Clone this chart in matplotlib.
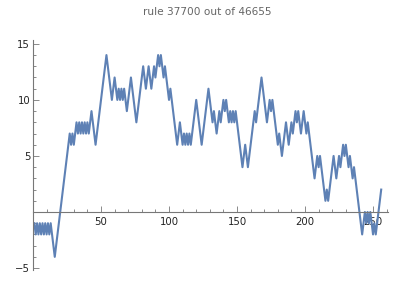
import matplotlib
matplotlib.use('Agg')
import matplotlib.pyplot as plt
from matplotlib.ticker import MultipleLocator, FixedLocator
import numpy as np

title = 'rule 37700 out of 46655'

# walk value at each step 1..256
steps = list(range(1, 257))
values = [
    -1, -2, -1, -2, -1, -2, -1, -2, -1, -2,
    -1, -2, -1, -2, -3, -4, -3, -2, -1, 0,
    1, 2, 3, 4, 5, 6, 7, 6, 7, 6,
    7, 8, 7, 8, 7, 8, 7, 8, 7, 8,
    7, 8, 9, 8, 7, 6, 7, 8, 9, 10,
    11, 12, 13, 14, 13, 12, 11, 10, 11, 12,
    11, 10, 11, 10, 11, 10, 11, 10, 9, 10,
    11, 12, 11, 10, 9, 8, 9, 10, 11, 12,
    13, 12, 11, 12, 13, 12, 11, 12, 13, 12,
    13, 14, 13, 14, 13, 12, 13, 12, 11, 10,
    11, 10, 9, 8, 7, 6, 7, 8, 7, 6,
    7, 6, 7, 6, 7, 6, 7, 8, 9, 10,
    9, 8, 7, 6, 7, 8, 9, 10, 11, 10,
    9, 8, 9, 8, 7, 8, 9, 8, 9, 10,
    9, 10, 9, 8, 9, 8, 9, 8, 9, 8,
    7, 6, 5, 4, 5, 6, 5, 4, 5, 6,
    7, 8, 9, 8, 9, 10, 11, 12, 11, 10,
    9, 8, 9, 10, 9, 10, 9, 8, 7, 6,
    7, 6, 5, 6, 7, 8, 7, 6, 7, 8,
    7, 8, 9, 8, 9, 8, 7, 8, 9, 8,
    7, 8, 7, 6, 5, 4, 3, 4, 5, 4,
    5, 4, 3, 2, 1, 2, 1, 2, 3, 4,
    5, 4, 3, 4, 5, 4, 5, 6, 5, 6,
    5, 4, 5, 4, 3, 4, 3, 2, 1, 0,
    -1, -2, -1, 0, -1, 0, -1, 0, -1, -2,
    -1, -2, -1, 0, 1, 2,
]

x_major = [50, 100, 150, 200, 250]
y_major = [-5, 5, 10, 15]

axis_grey = '#777777'
line_blue = '#5E81B5'

fig = plt.figure(figsize=(4, 3), dpi=100)
ax = fig.add_axes([0.0825, 0.099, 0.8875, 0.766])
ax.plot(steps, values, color=line_blue, lw=1.5, solid_joinstyle='round')

ax.set_xlim(0, 261)
ax.set_ylim(-5.2, 15.3)

for side in ['top', 'right']:
    ax.spines[side].set_visible(False)
ax.spines['left'].set_position(('data', 0))
ax.spines['bottom'].set_position(('data', 0))
for side in ['left', 'bottom']:
    ax.spines[side].set_color(axis_grey)
    ax.spines[side].set_linewidth(0.8)

ax.xaxis.set_major_locator(FixedLocator(x_major))
ax.xaxis.set_minor_locator(MultipleLocator(10))
ax.yaxis.set_major_locator(FixedLocator(y_major))
ax.yaxis.set_minor_locator(MultipleLocator(1))

ax.tick_params(which='both', direction='in', color=axis_grey, width=0.6,
               labelsize=7.3, labelcolor='#222222')
ax.tick_params(which='major', length=4)
ax.tick_params(which='minor', length=2.3)
ax.tick_params(axis='x', pad=3.5)
ax.tick_params(axis='y', pad=2)

fig.text(0.5175, 0.96, title, ha='center', va='center', fontsize=7.6, color='#666666')

fig.savefig('out.png', dpi=100)
